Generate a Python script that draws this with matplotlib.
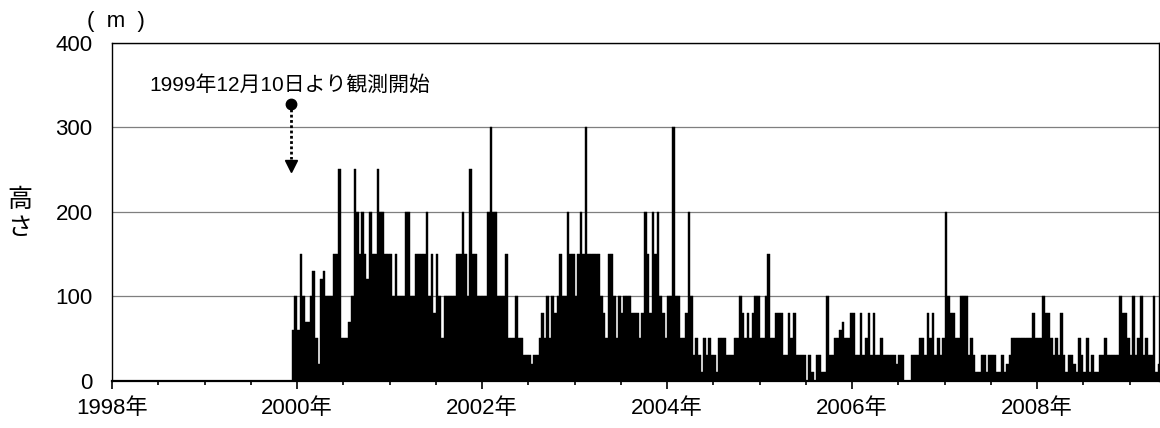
import numpy as np
import matplotlib
matplotlib.use("Agg")
import matplotlib.pyplot as plt

plt.rcParams['font.family'] = ['Liberation Sans', 'Noto Sans CJK JP']

# ---- data: plume height (m), one value per 10-day period (dekad) ----
start_year = 1999
start_dekad = 34          # observations start 1999-12-10 (dekad index within 1999)
dekads_per_year = 36
obs_start = 1999 + 343 / 365   # 1999-12-10

h1999 = [60, 100]
h2000 = [60, 150, 100, 70, 70, 100, 130, 50, 20, 120, 130, 100,
         100, 100, 150, 150, 250, 50, 50, 50, 70, 100, 250, 200,
         150, 200, 150, 120, 200, 150, 150, 250, 200, 200, 150, 150]
h2001 = [150, 100, 150, 100, 100, 100, 200, 200, 100, 100, 150, 150,
         150, 150, 200, 100, 150, 80, 150, 100, 50, 100, 100, 100,
         100, 100, 150, 150, 200, 150, 100, 250, 150, 150, 100, 100]
h2002 = [100, 100, 200, 300, 200, 200, 100, 100, 100, 150, 50, 50,
         50, 100, 50, 50, 30, 30, 30, 20, 30, 30, 50, 80,
         50, 100, 50, 100, 80, 100, 150, 100, 100, 200, 150, 150]
h2003 = [100, 150, 200, 150, 300, 150, 150, 150, 150, 150, 100, 80,
         50, 150, 150, 100, 50, 100, 80, 100, 100, 100, 80, 80,
         80, 50, 80, 200, 150, 80, 200, 150, 200, 100, 80, 50]
h2004 = [100, 100, 300, 100, 100, 50, 50, 80, 200, 100, 30, 50,
         30, 10, 50, 30, 50, 30, 30, 10, 50, 50, 50, 30,
         30, 30, 50, 50, 100, 80, 50, 80, 50, 80, 100, 100]
h2005 = [50, 50, 100, 150, 50, 50, 80, 80, 80, 30, 30, 80,
         50, 80, 30, 30, 30, 30, 0, 30, 10, 0, 30, 30,
         10, 10, 100, 30, 30, 50, 50, 60, 70, 50, 50, 80]
h2006 = [80, 30, 30, 80, 30, 50, 80, 30, 80, 30, 30, 50,
         30, 30, 30, 30, 30, 20, 30, 30, 0, 0, 0, 30,
         30, 30, 50, 50, 30, 80, 50, 80, 30, 50, 30, 50]
h2007 = [200, 100, 80, 80, 50, 50, 100, 100, 100, 30, 50, 30,
         10, 10, 30, 30, 10, 30, 30, 30, 10, 10, 30, 10,
         20, 30, 50, 50, 50, 50, 50, 50, 50, 50, 80, 50]
h2008 = [50, 50, 100, 80, 80, 50, 30, 50, 30, 80, 30, 10,
         30, 30, 20, 10, 50, 30, 10, 50, 10, 30, 10, 10,
         30, 30, 50, 30, 30, 30, 30, 30, 100, 80, 80, 50]
h2009 = [30, 100, 30, 50, 100, 30, 50, 30, 30, 100, 10, 20]

year_ticks = [1998, 2000, 2002, 2004, 2006, 2008]
year_labels = [f"{y}年" for y in year_ticks]
y_ticks = [0, 100, 200, 300, 400]

annot_text = "1999年12月10日より観測開始"
unit_text = "(  m  )"
ylabel_text = "高\nさ"

# ---- build ----
heights = (h1999 + h2000 + h2001 + h2002 + h2003 + h2004 + h2005 +
           h2006 + h2007 + h2008 + h2009)
n = len(heights)
x = start_year + (start_dekad + np.arange(n)) / dekads_per_year

fig = plt.figure(figsize=(11.6, 4.28), dpi=100)
ax = fig.add_axes([0.09655, 0.11051, 0.90284, 0.78972])

ax.bar(x, heights, width=1 / dekads_per_year, align='edge', color='black',
       edgecolor='black', linewidth=0.3, zorder=3)

ax.set_xlim(1998, 2009.32)
ax.set_ylim(0, 400)

ax.set_yticks(y_ticks)
ax.tick_params(axis='y', length=0, pad=14, labelsize=16)

ax.set_xticks(year_ticks)
ax.set_xticklabels(year_labels)
ax.set_xticks(np.arange(1998, 2009.01, 0.5), minor=True)
ax.tick_params(axis='x', which='major', length=5.5, width=1.2, direction='out',
               labelsize=16, pad=7, color='black')
ax.tick_params(axis='x', which='minor', length=3, width=1.2, direction='out',
               color='black')

ax.set_axisbelow(True)
ax.grid(axis='y', color='#7f7f7f', linewidth=0.9)

for side in ['top', 'right', 'left']:
    ax.spines[side].set_color('black')
    ax.spines[side].set_linewidth(1.0)
ax.spines['bottom'].set_color('black')
ax.spines['bottom'].set_linewidth(1.6)
ax.spines['bottom'].set_zorder(4)

# annotation: start of observation
ax.plot([obs_start, obs_start], [322, 262], color='black', lw=2.0,
        linestyle=(0, (1, 0.9)), zorder=5, solid_capstyle='butt')
ax.plot([obs_start], [327], marker='o', ms=7.5, color='black', zorder=6)
ax.plot([obs_start], [254], marker='v', ms=9, color='black', zorder=6)
ax.text(1999.924, 350, annot_text, ha='center', va='center', fontsize=15)

ax.set_ylabel(ylabel_text, rotation=0, fontsize=18, linespacing=1.2,
              va='center', ha='center')
ax.yaxis.set_label_coords(-0.0879, 0.493)

fig.text(116 / 1160, 1 - 21.5 / 428, unit_text, ha='center', va='center',
         fontsize=16)

fig.savefig("out.png", dpi=100)
